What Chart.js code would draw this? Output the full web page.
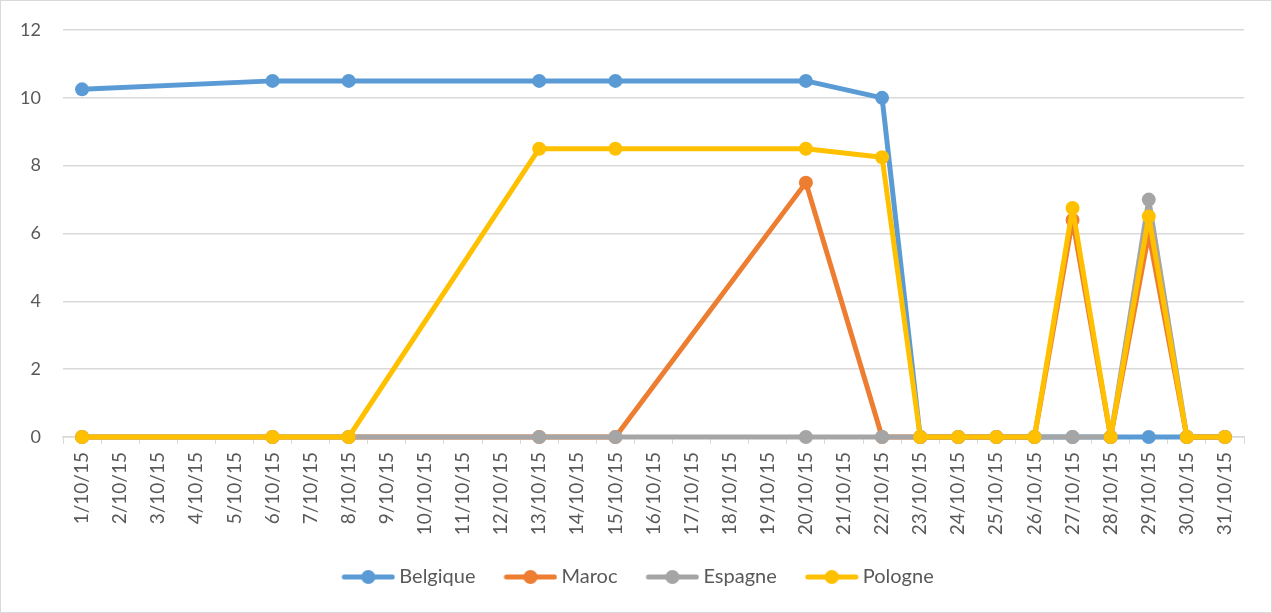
<!DOCTYPE html>
<html>
<head>
<meta charset="utf-8">
<script src="https://cdn.jsdelivr.net/npm/chart.js@4.4.1/dist/chart.umd.min.js"></script>
<style>
    html, body { margin: 0; padding: 0; background: #fff; }
    #wrap { position: relative; width: 1270px; height: 611px; border: 1px solid #d9d9d9; }
</style>
</head>
<body>
<div id="wrap"><canvas id="lineChart"></canvas></div>
<script>
// Dates (catégories)
const dates = ['1/10/15', '2/10/15', '3/10/15', '4/10/15', '5/10/15', '6/10/15', '7/10/15', '8/10/15',
    '9/10/15', '10/10/15', '11/10/15', '12/10/15', '13/10/15', '14/10/15', '15/10/15', '16/10/15',
    '17/10/15', '18/10/15', '19/10/15', '20/10/15', '21/10/15', '22/10/15', '23/10/15', '24/10/15',
    '25/10/15', '26/10/15', '27/10/15', '28/10/15', '29/10/15', '30/10/15', '31/10/15'];

// Séries (null = pas de valeur ce jour-là)
const belgique = [10.25, null, null, null, null, 10.5, null, 10.5, null, null, null, null, 10.5, null, 10.5, null,
    null, null, null, 10.5, null, 10, 0, 0, 0, 0, 0, 0, 0, 0, 0];
const maroc = [0, null, null, null, null, 0, null, 0, null, null, null, null, 0, null, 0, null,
    null, null, null, 7.5, null, 0, 0, 0, 0, 0, 6.4, 0, 6, 0, 0];
const espagne = [0, null, null, null, null, 0, null, 0, null, null, null, null, 0, null, 0, null,
    null, null, null, 0, null, 0, 0, 0, 0, 0, 0, 0, 7, 0, 0];
const pologne = [0, null, null, null, null, 0, null, 0, null, null, null, null, 8.5, null, 8.5, null,
    null, null, null, 8.5, null, 8.25, 0, 0, 0, 0, 6.75, 0, 6.5, 0, 0];

const seriesNames = ['Belgique', 'Maroc', 'Espagne', 'Pologne'];
const seriesColors = ['#5B9BD5', '#ED7D31', '#A5A5A5', '#FFC000'];
const yTicks = [0, 2, 4, 6, 8, 10, 12];

const FONT = 'Lato, "Open Sans", sans-serif';
const TEXT = '#595959';

// Symbole de légende : trait + point (marge transparente à gauche pour l'espacement)
function legendSymbol(color) {
    const c = document.createElement('canvas');
    c.width = 78;
    c.height = 16;
    const ctx = c.getContext('2d');
    ctx.strokeStyle = color;
    ctx.lineWidth = 5;
    ctx.lineCap = 'round';
    ctx.beginPath();
    ctx.moveTo(27, 8);
    ctx.lineTo(75, 8);
    ctx.stroke();
    ctx.fillStyle = color;
    ctx.beginPath();
    ctx.arc(51, 8, 7, 0, Math.PI * 2);
    ctx.fill();
    return c;
}

// Décale la légende horizontalement
const legendShift = {
    id: 'legendShift',
    afterLayout: function(chart) {
        if (chart.legend) {
            chart.legend.left += 6;
            chart.legend.right += 6;
        }
    }
};

const allSeries = [belgique, maroc, espagne, pologne];
const datasets = allSeries.map((values, i) => ({
    label: seriesNames[i],
    data: values,
    borderColor: seriesColors[i],
    backgroundColor: seriesColors[i],
    pointBackgroundColor: seriesColors[i],
    pointBorderColor: seriesColors[i],
    borderWidth: 5,
    borderJoinStyle: 'round',
    borderCapStyle: 'round',
    pointRadius: 7,
    pointBorderWidth: 0,
    tension: 0,
    spanGaps: true,
    clip: false,
    order: allSeries.length - i
}));

new Chart(document.getElementById('lineChart').getContext('2d'), {
    type: 'line',
    data: { labels: dates, datasets: datasets },
    options: {
        responsive: true,
        maintainAspectRatio: false,
        animation: false,
        layout: { padding: { top: 29, right: 27, bottom: 15, left: 0 } },
        plugins: {
            tooltip: { enabled: false },
            legend: {
                display: true,
                position: 'bottom',
                labels: {
                    color: TEXT,
                    font: { family: FONT, size: 20 },
                    usePointStyle: true,
                    pointStyleWidth: 66,
                    padding: 10,
                    generateLabels: function(chart) {
                        return chart.data.datasets.map((ds, i) => ({
                            text: ds.label,
                            pointStyle: legendSymbol(seriesColors[i]),
                            fillStyle: seriesColors[i],
                            strokeStyle: seriesColors[i],
                            fontColor: TEXT,
                            lineWidth: 0,
                            hidden: false,
                            datasetIndex: i
                        }));
                    }
                }
            }
        },
        scales: {
            y: {
                min: 0,
                max: 12,
                afterBuildTicks: function(scale) {
                    scale.ticks = yTicks.map(v => ({ value: v }));
                },
                afterFit: function(scale) {
                    scale.width = 62;
                    scale.paddingTop = 0;
                    scale.paddingBottom = 0;
                },
                border: { display: false },
                grid: { color: '#D9D9D9', lineWidth: 1.5, drawTicks: false },
                ticks: { color: TEXT, font: { family: FONT, size: 18 }, padding: 22 }
            },
            x: {
                offset: true,
                afterFit: function(scale) { scale.height = 120; },
                border: { display: true, color: '#D9D9D9', width: 1.5 },
                grid: { offset: true, drawOnChartArea: false, color: '#D9D9D9', tickLength: 7 },
                ticks: {
                    color: TEXT,
                    font: { family: FONT, size: 19 },
                    minRotation: 90,
                    maxRotation: 90,
                    autoSkip: false,
                    padding: 8
                }
            }
        }
    },
    plugins: [legendShift]
});
</script>
</body>
</html>
